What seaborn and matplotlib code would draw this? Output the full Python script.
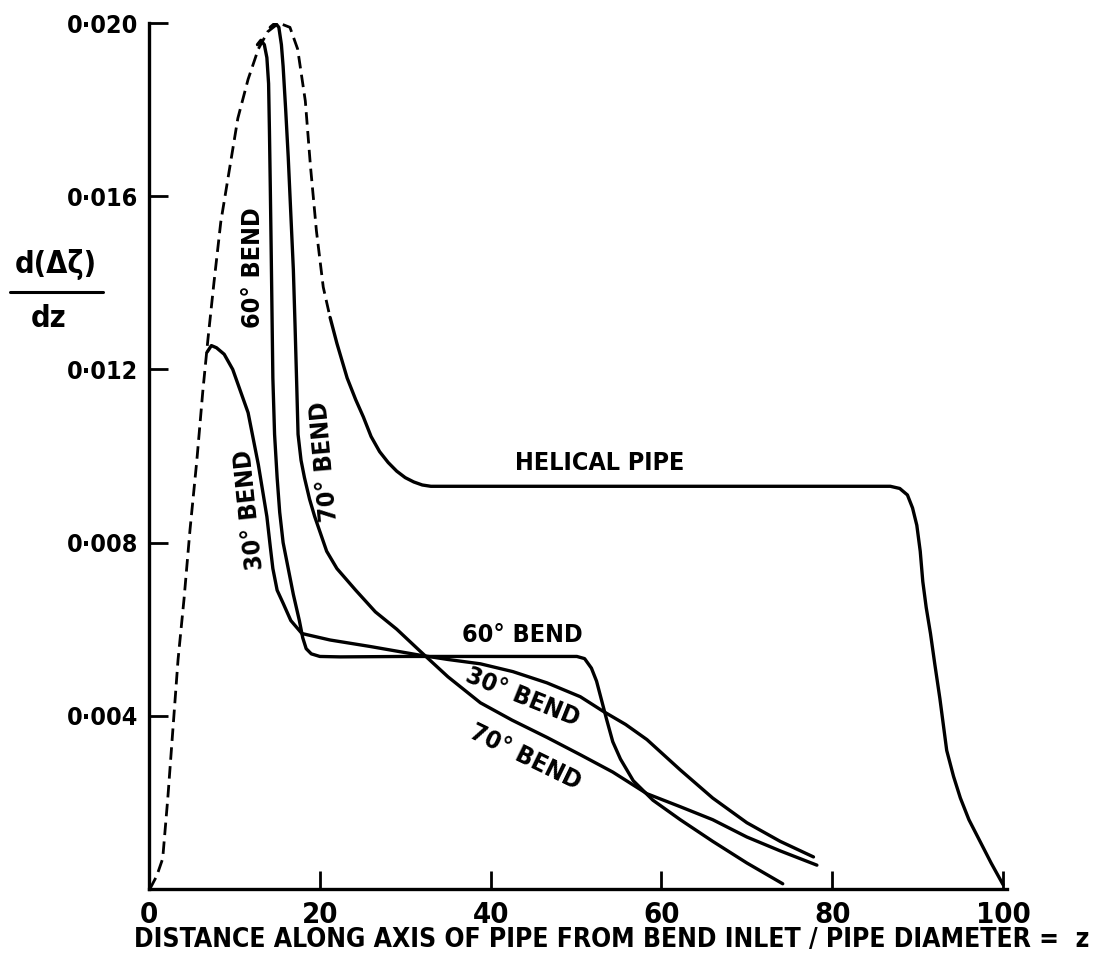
import matplotlib
matplotlib.use("Agg")
import matplotlib.pyplot as plt
from matplotlib.lines import Line2D
import seaborn as sns

# Common developing-flow envelope (dashed)
envelope_z = [0.1, 0.9, 1.6, 2.2, 2.8, 3.4, 4.1, 4.8, 5.6, 6.3, 6.9, 7.6, 8.4, 9.4,
              10.4, 11.6, 12.8, 13.9, 15.2, 16.5, 17.4, 18.3, 18.9, 19.6, 20.4, 21.2]
envelope_v = [0.0, 0.0003, 0.0007, 0.0021, 0.0037, 0.0053, 0.0067, 0.0083, 0.0099, 0.0115,
              0.0127, 0.0140, 0.0154, 0.0166, 0.0178, 0.0187, 0.0194, 0.0198, 0.0200, 0.0199,
              0.0194, 0.0182, 0.0167, 0.0152, 0.0139, 0.0132]

# 30 degree bend
bend30_z = [6.8, 7.3, 7.9, 8.8, 9.8, 10.7, 11.6, 12.2, 12.8, 13.3, 13.8, 14.2, 14.5, 15.0,
            15.7, 16.6, 17.9, 21.2, 25.9, 31.7, 35.0, 38.8, 42.6, 46.6, 50.5, 53.2, 55.8,
            58.3, 62.2, 66.0, 70.0, 73.9, 77.8]
bend30_v = [0.0124, 0.01255, 0.0125, 0.01235, 0.0120, 0.0115, 0.0110, 0.0104, 0.0098, 0.0092,
            0.0086, 0.0079, 0.0074, 0.0069, 0.0066, 0.0062, 0.0059, 0.00575, 0.0056, 0.0054,
            0.0053, 0.0052, 0.00502, 0.00476, 0.00444, 0.0041, 0.0038, 0.00345, 0.00275,
            0.0021, 0.00153, 0.0011, 0.00074]

# 60 degree bend
bend60_z = [12.7, 13.1, 13.5, 13.8, 14.0, 14.1, 14.2, 14.3, 14.4, 14.5, 14.7, 15.0, 15.3,
            15.7, 16.2, 16.9, 17.6, 18.0, 18.4, 19.0, 20.0, 22.4, 30.0, 40.0, 50.1, 51.0,
            51.8, 52.4, 52.8, 53.2, 53.6, 54.3, 55.2, 56.7, 59.0, 62.2, 66.0, 70.0, 74.2]
bend60_v = [0.0195, 0.0196, 0.0195, 0.0192, 0.0186, 0.0175, 0.0162, 0.0148, 0.0133, 0.0118,
            0.0105, 0.0095, 0.0087, 0.0080, 0.0075, 0.0068, 0.0062, 0.0058, 0.00555, 0.00543,
            0.00537, 0.00536, 0.00537, 0.00537, 0.00537, 0.00532, 0.0051, 0.0048, 0.0045,
            0.0042, 0.0039, 0.0034, 0.0030, 0.0025, 0.00205, 0.0016, 0.0011, 0.0006, 0.00012]

# 70 degree bend
bend70_z = [14.2, 14.8, 15.2, 15.5, 15.7, 16.0, 16.3, 16.6, 16.9, 17.1, 17.3, 17.45, 17.8,
            18.2, 18.8, 19.4, 20.1, 20.8, 22.0, 24.2, 26.5, 29.0, 31.7, 35.0, 38.8, 42.5,
            46.6, 50.5, 54.3, 58.3, 62.2, 66.0, 70.0, 73.9, 78.2]
bend70_v = [0.0199, 0.0200, 0.0199, 0.0195, 0.0190, 0.0180, 0.0169, 0.0156, 0.0143, 0.0130,
            0.0116, 0.0105, 0.0099, 0.0095, 0.0090, 0.0086, 0.0082, 0.0078, 0.0074, 0.0069,
            0.0064, 0.0060, 0.0055, 0.0049, 0.0043, 0.0039, 0.0035, 0.0031, 0.0027, 0.0022,
            0.0019, 0.0016, 0.0012, 0.00088, 0.00055]

# Helical pipe
helical_z = [21.2, 22.0, 23.2, 24.2, 25.1, 26.0, 27.0, 28.0, 29.0, 30.0, 31.0, 32.0, 33.0,
             40.0, 50.0, 60.0, 70.0, 80.0, 86.8, 87.9, 88.8, 89.4, 89.9, 90.3, 90.6, 91.0,
             91.5, 92.0, 92.6, 93.4, 94.2, 95.0, 96.0, 97.3, 98.6, 100.0]
helical_v = [0.0132, 0.0126, 0.0118, 0.0113, 0.0109, 0.01045, 0.0101, 0.00985, 0.00965,
             0.0095, 0.0094, 0.00933, 0.0093, 0.0093, 0.0093, 0.0093, 0.0093, 0.0093, 0.0093,
             0.00925, 0.0091, 0.0088, 0.0084, 0.0078, 0.0071, 0.0065, 0.0059, 0.0052, 0.0044,
             0.0032, 0.0026, 0.0021, 0.0016, 0.0011, 0.0006, 0.0001]

x_ticks = [0, 20, 40, 60, 80, 100]
x_tick_labels = ["0", "20", "40", "60", "80", "100"]
y_ticks = [0.004, 0.008, 0.012, 0.016, 0.020]
y_tick_labels = ["0·004", "0·008", "0·012", "0·016", "0·020"]

sns.set_theme(style="ticks")
plt.rcParams["font.family"] = ["DejaVu Sans"]
plt.rcParams["font.weight"] = "bold"
plt.rcParams["font.stretch"] = "condensed"

fig = plt.figure(figsize=(10.99, 9.67), dpi=100)
ax = fig.add_axes([0.1356, 0.0807, 0.7810, 0.8955])

lw = 2.4
sns.lineplot(x=envelope_z, y=envelope_v, ax=ax, color="black", lw=2.0,
             linestyle=(0, (4.5, 2.3)), sort=False, estimator=None)
for zs, vs in [(bend30_z, bend30_v), (bend60_z, bend60_v),
               (bend70_z, bend70_v), (helical_z, helical_v)]:
    sns.lineplot(x=zs, y=vs, ax=ax, color="black", lw=lw, sort=False, estimator=None,
                 solid_joinstyle="round", solid_capstyle="round")

ax.set_xlim(0, 100.5)
ax.set_ylim(0, 0.020)
ax.set_xticks(x_ticks)
ax.set_xticklabels(x_tick_labels)
ax.set_yticks(y_ticks)
ax.set_yticklabels(y_tick_labels)
ax.tick_params(axis="x", direction="in", length=13, width=2, pad=9, labelsize=21,
               colors="black")
ax.tick_params(axis="y", direction="in", length=14, width=2, pad=8, labelsize=18,
               colors="black")
for side in ["top", "right"]:
    ax.spines[side].set_visible(False)
for side in ["left", "bottom"]:
    ax.spines[side].set_linewidth(2.4)
    ax.spines[side].set_color("black")

ax.set_xlabel("DISTANCE ALONG AXIS OF PIPE FROM BEND INLET / PIPE DIAMETER =  z",
              fontsize=19, fontweight="bold", color="black")
ax.xaxis.set_label_coords(0.539, -0.044)
ax.xaxis.label.set_va("top")

# Derivative label on the left
fig.text(0.051, 0.726, "d(Δζ)", fontsize=22, ha="center", va="center", color="black")
fig.add_artist(Line2D([0.009, 0.094], [0.698, 0.698], transform=fig.transFigure,
                      color="black", lw=2.2))
fig.text(0.044, 0.671, "dz", fontsize=22, ha="center", va="center", color="black")

# Curve labels
lab = dict(fontsize=18, fontweight="bold", ha="center", va="center", color="black")
ax.text(12.2, 0.01436, "60° BEND", rotation=90, **lab)
ax.text(11.8, 0.00876, "30° BEND", rotation=96, **lab)
ax.text(20.6, 0.00987, "70° BEND", rotation=95, **lab)
ax.text(52.8, 0.00983, "HELICAL PIPE", **lab)
ax.text(43.7, 0.00587, "60° BEND", **lab)
ax.text(43.7, 0.00444, "30° BEND", rotation=-22, **lab)
ax.text(44.0, 0.00305, "70° BEND", rotation=-26, **lab)

fig.savefig("out.png", dpi=100)
